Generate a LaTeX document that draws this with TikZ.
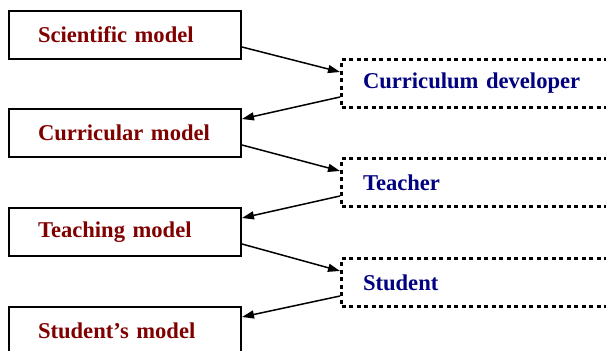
\documentclass[tikz,border=0pt]{standalone}
\usepackage{fontspec}
\setmainfont{Liberation Serif}
\usetikzlibrary{arrows.meta}

\definecolor{modelred}{RGB}{128,0,0}
\definecolor{actorblue}{RGB}{0,0,128}

\tikzset{
    model/.style={draw,line width=2pt,anchor=north west,minimum width=232pt,minimum height=48pt,
        text width=174pt,inner xsep=29pt,align=left,text=modelred,font=\fontsize{22.6}{27}\selectfont\bfseries},
    actor/.style={draw,line width=3pt,dash pattern=on 4pt off 3.5pt,anchor=north west,minimum height=48pt,
        text width=250pt,inner xsep=21.5pt,align=left,text=actorblue,font=\fontsize{22.6}{27}\selectfont\bfseries},
    link/.style={line width=1.5pt,-{Triangle[length=12pt,width=8pt]}}
}

\begin{document}
\begin{tikzpicture}[x=1pt,y=1pt]
        \useasboundingbox (0,0) rectangle (606,-351);
        \clip (0,0) rectangle (606,-351);

        % models on the left
        \node[model] (scimodel) at (8,-10) {Scientific model};
        \node[model] (curmodel) at (8,-108) {Curricular model};
        \node[model] (teachmodel) at (8,-207) {Teaching model};
        \node[model] (studmodel) at (8,-306) {Student’s model};

        % people on the right
        \node[actor] (developer) at (340,-58) {Curriculum developer};
        \node[actor] (teacher) at (340,-157) {Teacher};
        \node[actor] (student) at (340,-257) {Student};

        \draw[link] ([yshift=13pt]scimodel.south east) -- ([yshift=-14pt]developer.north west);
        \draw[link] ([yshift=12pt]developer.south west) -- ([yshift=-11pt]curmodel.north east);
        \draw[link] ([yshift=13pt]curmodel.south east) -- ([yshift=-14pt]teacher.north west);
        \draw[link] ([yshift=12pt]teacher.south west) -- ([yshift=-11pt]teachmodel.north east);
        \draw[link] ([yshift=13pt]teachmodel.south east) -- ([yshift=-14pt]student.north west);
        \draw[link] ([yshift=12pt]student.south west) -- ([yshift=-11pt]studmodel.north east);
    \end{tikzpicture}
\end{document}
